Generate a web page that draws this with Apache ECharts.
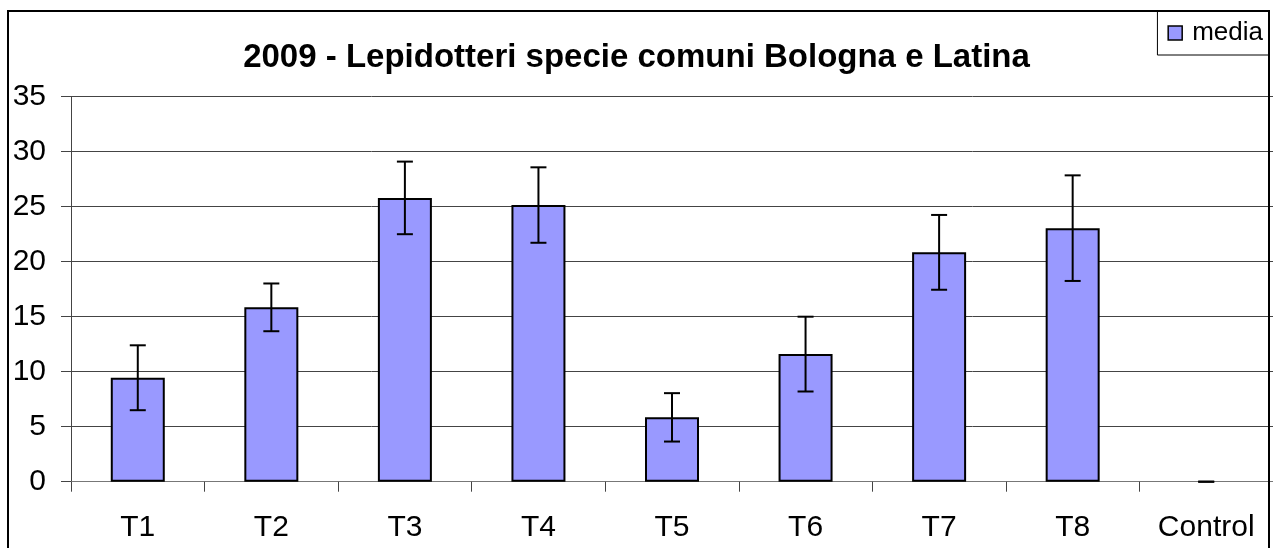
<!DOCTYPE html>
<html>
<head>
<meta charset="utf-8">
<script src="https://cdn.jsdelivr.net/npm/echarts@6/dist/echarts.min.js"></script>
<style>
  html, body { margin: 0; padding: 0; background: #fff; }
  #main { width: 1273px; height: 548px; }
</style>
</head>
<body>
<div id="main"></div>
<script>
// dati
var categories = ['T1', 'T2', 'T3', 'T4', 'T5', 'T6', 'T7', 'T8', 'Control'];
var media = [9.45, 15.85, 25.8, 25.15, 5.85, 11.6, 20.85, 23.05, 0];
var errore = [2.95, 2.17, 3.3, 3.43, 2.2, 3.4, 3.4, 4.8, 0];
var yTicks = [0, 5, 10, 15, 20, 25, 30, 35];

var font = "'Liberation Sans', Arial, sans-serif";

var barData = media.map(function (v) {
    // la barra a zero non ha bordo visibile
    return v === 0 ? { value: v, itemStyle: { borderWidth: 0 } } : v;
});

var errData = media.map(function (v, i) {
    return [i, v - errore[i], v + errore[i]];
});

var chart = echarts.init(document.getElementById('main'));

var option = {
    animation: false,
    backgroundColor: '#fff',
    title: {
        text: '2009 - Lepidotteri specie comuni Bologna e Latina',
        left: 'center',
        top: 41,
        padding: [0, 0, 0, 7],
        textStyle: {
            fontFamily: font,
            fontSize: 33,
            fontWeight: 'bold',
            color: '#000'
        }
    },
    legend: {
        data: ['media'],
        right: 4,
        top: 11,
        padding: [9, 6, 9, 10],
        backgroundColor: '#fff',
        borderColor: '#000',
        borderWidth: 1,
        itemWidth: 14,
        itemHeight: 14,
        icon: 'rect',
        itemStyle: {
            color: '#9999FF',
            borderColor: '#000',
            borderWidth: 1.5
        },
        textStyle: {
            fontFamily: font,
            fontSize: 26,
            color: '#000',
            padding: [0, 0, 0, 5]
        }
    },
    grid: {
        left: 71,
        right: 0,
        top: 96.7,
        bottom: 66.3
    },
    xAxis: {
        type: 'category',
        data: categories,
        axisLine: { lineStyle: { color: '#777', width: 1 } },
        axisTick: {
            show: true,
            length: 10,
            lineStyle: { color: '#444' }
        },
        axisLabel: {
            margin: 31,
            fontFamily: font,
            fontSize: 30,
            color: '#000'
        }
    },
    yAxis: {
        type: 'value',
        min: yTicks[0],
        max: yTicks[yTicks.length - 1],
        interval: 5,
        axisLine: { show: true, lineStyle: { color: '#444', width: 1 } },
        axisTick: {
            show: true,
            length: 10,
            lineStyle: { color: '#444' }
        },
        splitLine: { show: true, lineStyle: { color: '#444', width: 1 } },
        axisLabel: {
            margin: 25,
            fontFamily: font,
            fontSize: 30,
            color: '#000'
        }
    },
    series: [{
        type: 'bar',
        name: 'media',
        data: barData,
        barWidth: 54,
        itemStyle: {
            color: '#9999FF',
            borderColor: '#000',
            borderWidth: 2
        },
        z: 2
    }, {
        type: 'custom',
        name: 'errore',
        data: errData,
        z: 5,
        renderItem: function (params, api) {
            var i = api.value(0);
            var lo = api.coord([i, api.value(1)]);
            var hi = api.coord([i, api.value(2)]);
            var half = 8;
            var style = { stroke: '#000', lineWidth: 2 };
            return {
                type: 'group',
                children: [{
                    type: 'line',
                    shape: { x1: hi[0], y1: hi[1], x2: lo[0], y2: lo[1] },
                    style: style
                }, {
                    type: 'line',
                    shape: { x1: hi[0] - half, y1: hi[1], x2: hi[0] + half, y2: hi[1] },
                    style: style
                }, {
                    type: 'line',
                    shape: { x1: lo[0] - half, y1: lo[1], x2: lo[0] + half, y2: lo[1] },
                    style: style
                }]
            };
        }
    }],
    graphic: [{
        type: 'rect',
        z: 100,
        silent: true,
        shape: { x: 8, y: 11, width: 1261, height: 600 },
        style: { fill: 'none', stroke: '#000', lineWidth: 2 }
    }]
};

chart.setOption(option);
</script>
</body>
</html>
